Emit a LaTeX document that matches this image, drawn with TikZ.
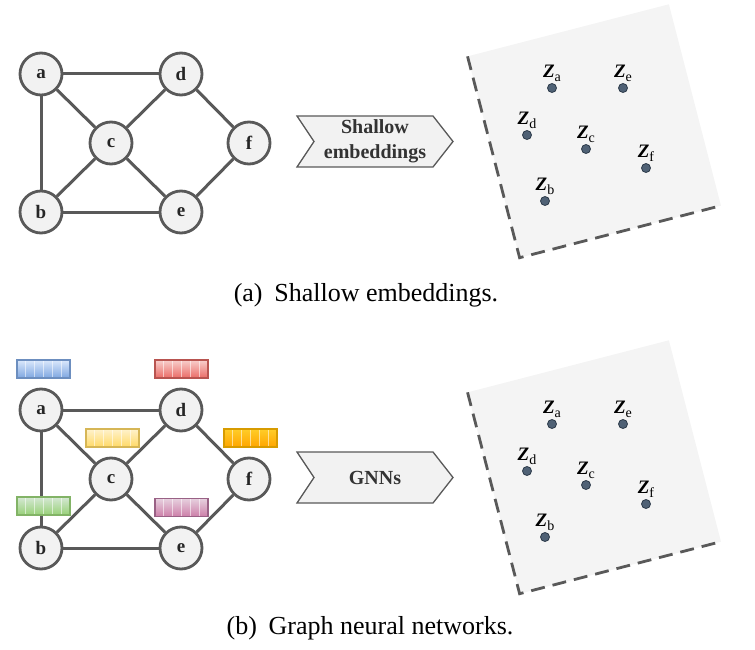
\documentclass[tikz,border=0pt]{standalone}
\usepackage{fontspec}
\setmainfont{Liberation Serif}
\usetikzlibrary{calc}

\definecolor{stroke}{HTML}{595959}
\definecolor{nodefill}{HTML}{F2F2F2}
\definecolor{panelfill}{HTML}{F4F4F4}
\definecolor{dotfill}{HTML}{4F6175}
\definecolor{dotdraw}{HTML}{2D3B4A}
% feature vector colours: border, top, bottom
\definecolor{blueB}{HTML}{6C8EBF}\definecolor{blueT}{HTML}{DAE8FC}\definecolor{blueD}{HTML}{7EA6E0}
\definecolor{redB}{HTML}{B85450}\definecolor{redT}{HTML}{F8CECC}\definecolor{redD}{HTML}{EA6B66}
\definecolor{yelB}{HTML}{D6B656}\definecolor{yelT}{HTML}{FFF2CC}\definecolor{yelD}{HTML}{FFD966}
\definecolor{orgB}{HTML}{D79B00}\definecolor{orgT}{HTML}{FFCD28}\definecolor{orgD}{HTML}{FFA500}
\definecolor{grnB}{HTML}{82B366}\definecolor{grnT}{HTML}{D5E8D4}\definecolor{grnD}{HTML}{97D077}
\definecolor{pnkB}{HTML}{996185}\definecolor{pnkT}{HTML}{E6D0DE}\definecolor{pnkD}{HTML}{CD7FA8}

\tikzset{
  vtx/.style={circle, draw=stroke, fill=nodefill, line width=2.8pt,
    minimum size=42pt, inner sep=0pt, text=black!85,
    font=\fontsize{19}{19}\selectfont\bfseries},
  graphlink/.style={draw=stroke, line width=3pt},
  chev/.style={draw=stroke, fill=nodefill, line width=1.3pt, line join=miter},
  chevtext/.style={align=center, inner sep=0pt, text=black!80,
    font=\fontsize{20}{25}\selectfont\bfseries},
  featbar/.style n args={3}{rectangle, minimum width=53pt, minimum height=18pt,
    inner sep=0pt, draw=#1, line width=1.2pt, top color=#2, bottom color=#3,
    path picture={
      \foreach \k in {1,...,5}
        \draw[white, opacity=0.55, line width=1pt]
          ([xshift=\k*8.833pt]path picture bounding box.north west) --
          ([xshift=\k*8.833pt]path picture bounding box.south west);
    }},
  zdot/.style={circle, fill=dotfill, draw=dotdraw, line width=0.8pt,
    minimum size=9pt, inner sep=0pt},
  zlab/.style={anchor=south, inner sep=0pt, font=\fontsize{19}{19}\selectfont},
  panelborder/.style={draw=stroke, line width=2.8pt, dash pattern=on 14pt off 8pt},
  captext/.style={inner sep=0pt, font=\fontsize{26}{26}\selectfont},
}

% graph with six vertices; #1 = name prefix, #2 = vertical offset
\newcommand{\samplegraph}[2]{%
  \node[vtx] (#1a) at (41,{74+#2}) {a};
  \node[vtx] (#1d) at (181,{74+#2}) {d};
  \node[vtx] (#1c) at (111,{143+#2}) {c};
  \node[vtx] (#1f) at (249,{143+#2}) {f};
  \node[vtx] (#1b) at (41,{212+#2}) {b};
  \node[vtx] (#1e) at (181,{212+#2}) {e};
  \foreach \u/\v in {a/d,a/c,a/b,d/c,d/f,c/b,c/e,b/e,e/f}
    \draw[graphlink] (#1\u) -- (#1\v);
}

% one subscripted embedding label
\newcommand{\zname}[1]{{\bfseries\itshape Z}\raisebox{-3.5pt}{\fontsize{14}{14}\selectfont #1}}

% tilted embedding space with six points; #1 = name prefix, #2 = vertical offset
\newcommand{\embedpanel}[2]{%
  \begin{scope}[shift={(594.25,{131+#2})}, rotate=14.5]
    \fill[panelfill] (-104,-104) rectangle (104,104);
    \draw[panelborder] (-104,-104) -- (-104,104) -- (104,104);
  \end{scope}
  \foreach \n/\px/\py in {a/552/88, e/623/88, d/527/135, c/586/149, f/646/168, b/545/201}{
    \node[zdot] (#1z\n) at (\px,{\py+#2}) {};
    \node[zlab] (#1l\n) at ([yshift=1.5pt]#1z\n.north) {\zname{\n}};
  }
}

% chevron with a label; #1 = name, #2 = centre, #3 = text
\newcommand{\chevron}[3]{%
  \coordinate (#1c) at #2;
  \draw[chev] ($(#1c)+(-78,-25.5)$) -- ($(#1c)+(58,-25.5)$) -- ($(#1c)+(78,0)$)
    -- ($(#1c)+(58,25.5)$) -- ($(#1c)+(-78,25.5)$) -- ($(#1c)+(-61,0)$) -- cycle;
  \node[chevtext] (#1) at (#1c) {#3};
}

\begin{document}
\begin{tikzpicture}[x=1pt, y=-1pt]
  \useasboundingbox (0,0) rectangle (755,650);

  % (a) shallow embeddings
  \samplegraph{t}{0}
  \chevron{arrA}{(375,141.5)}{Shallow\\embeddings}
  \embedpanel{t}{0}
  \node[captext] (capA) at (366,295) {(a)\hspace{0.45em}Shallow embeddings.};

  % (b) graph neural networks
  \samplegraph{g}{336}
  \node[featbar={blueB}{blueT}{blueD}] (fa) at (43.5,369) {};
  \node[featbar={redB}{redT}{redD}] (fd) at (181.5,369) {};
  \node[featbar={yelB}{yelT}{yelD}] (fc) at (112.5,438) {};
  \node[featbar={orgB}{orgT}{orgD}] (ff) at (250.5,438) {};
  \node[featbar={grnB}{grnT}{grnD}] (fb) at (43.5,506) {};
  \node[featbar={pnkB}{pnkT}{pnkD}] (fe) at (181.5,507.5) {};
  \chevron{arrB}{(375,477.5)}{GNNs}
  \embedpanel{g}{336}
  \node[captext] (capB) at (370,628) {(b)\hspace{0.45em}Graph neural networks.};
\end{tikzpicture}
\end{document}
